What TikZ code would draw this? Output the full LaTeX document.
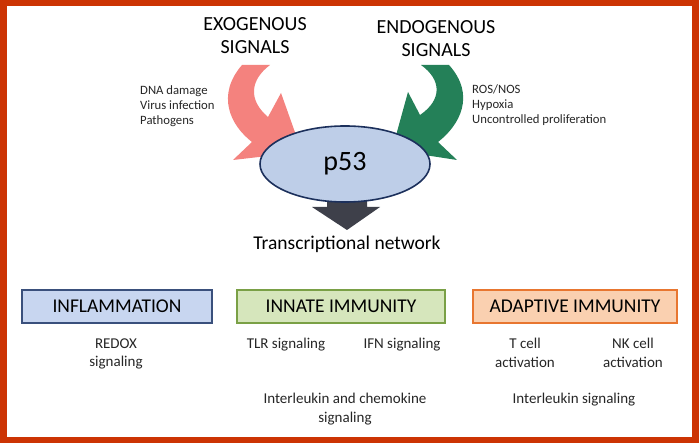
\documentclass[tikz,border=0pt]{standalone}
\usepackage{fontspec}
\setmainfont{Carlito}
\usetikzlibrary{shapes.geometric}
\definecolor{frame}{RGB}{204,52,4}
\definecolor{salmon}{RGB}{244,130,126}
\definecolor{teal}{RGB}{36,128,88}
\definecolor{pfill}{RGB}{190,206,232}
\definecolor{pline}{RGB}{28,48,92}
\definecolor{darkarr}{RGB}{62,64,74}
\definecolor{bfill}{RGB}{200,214,240}
\definecolor{bline}{RGB}{58,80,124}
\definecolor{gfill}{RGB}{214,230,188}
\definecolor{gline}{RGB}{122,160,70}
\definecolor{ofill}{RGB}{250,208,176}
\definecolor{oline}{RGB}{232,118,48}
\definecolor{txt}{RGB}{38,38,38}
\tikzset{
  title/.style={font=\fontsize{20}{23}\selectfont, text=black, align=center, inner sep=0},
  side/.style={font=\fontsize{12.7}{15}\selectfont, text=txt, align=left, anchor=north west, inner sep=0},
  sub/.style={font=\fontsize{15}{18.5}\selectfont, text=txt, align=center, inner sep=0},
  catbox/.style={minimum width=#1, minimum height=33, inner sep=0, line width=1.6pt,
     font=\fontsize{19.5}{22}\selectfont, text=black},
}
\begin{document}
\begin{tikzpicture}[x=1pt,y=-1pt]
\useasboundingbox (0,0) rectangle (699,443);
\fill[frame] (0,0) rectangle (699,443);
\fill[white] (7,6) rectangle (692,437);

% titles
\node[title] (exo) at (255,36) {EXOGENOUS\\SIGNALS};
\node[title] (endo) at (436,39) {ENDOGENOUS\\SIGNALS};

% side lists
\node[side] (exolist) at (140,85) {DNA damage\\Virus infection\\Pathogens};
\node[side] (endolist) at (472,84) {ROS/NOS\\Hypoxia\\Uncontrolled proliferation};

% curved arrows
\fill[salmon] (242,65) -- (270,65)
  .. controls (250,80) and (248,100) .. (268,117)
  -- (281,93) -- (302,152) -- (233,160) -- (252,142)
  .. controls (230,125) and (216,95) .. (242,65) -- cycle;
\fill[teal] (449,65) -- (421,65)
  .. controls (442,80) and (442,100) .. (420,115)
  -- (408,92) -- (392,150) -- (457,160) -- (438,142)
  .. controls (460,125) and (476,95) .. (449,65) -- cycle;

% down arrow
\fill[darkarr] (327,198) -- (367,198) -- (367,207) -- (380,207) -- (347,230)
  -- (312,207) -- (327,207) -- cycle;

% p53
\node[ellipse, draw=pline, fill=pfill, line width=1.6pt, minimum width=170, minimum height=76, inner sep=0,
  font=\fontsize{28}{28}\selectfont] (p53) at (345,164) {p53};

\node[font=\fontsize{19.5}{20}\selectfont, text=black, inner sep=0] (tn) at (347,244) {Transcriptional network};

% category boxes
\node[catbox=190, draw=bline, fill=bfill] (infl) at (117,306.5) {INFLAMMATION};
\node[catbox=208, draw=gline, fill=gfill] (innate) at (341,306.5) {INNATE IMMUNITY};
\node[catbox=204, draw=oline, fill=ofill] (adapt) at (575,306.5) {ADAPTIVE IMMUNITY};

% sub items
\node[sub] (redox) at (116,354) {REDOX\\signaling};
\node[sub] (tlr) at (286,345) {TLR signaling};
\node[sub] (ifn) at (402,345) {IFN signaling};
\node[sub] (ilc) at (345,409) {Interleukin and chemokine\\signaling};
\node[sub] (tcell) at (525,353) {T cell\\activation};
\node[sub] (nk) at (633,353) {NK cell\\activation};
\node[sub] (ils) at (574,400) {Interleukin signaling};
\end{tikzpicture}
\end{document}
